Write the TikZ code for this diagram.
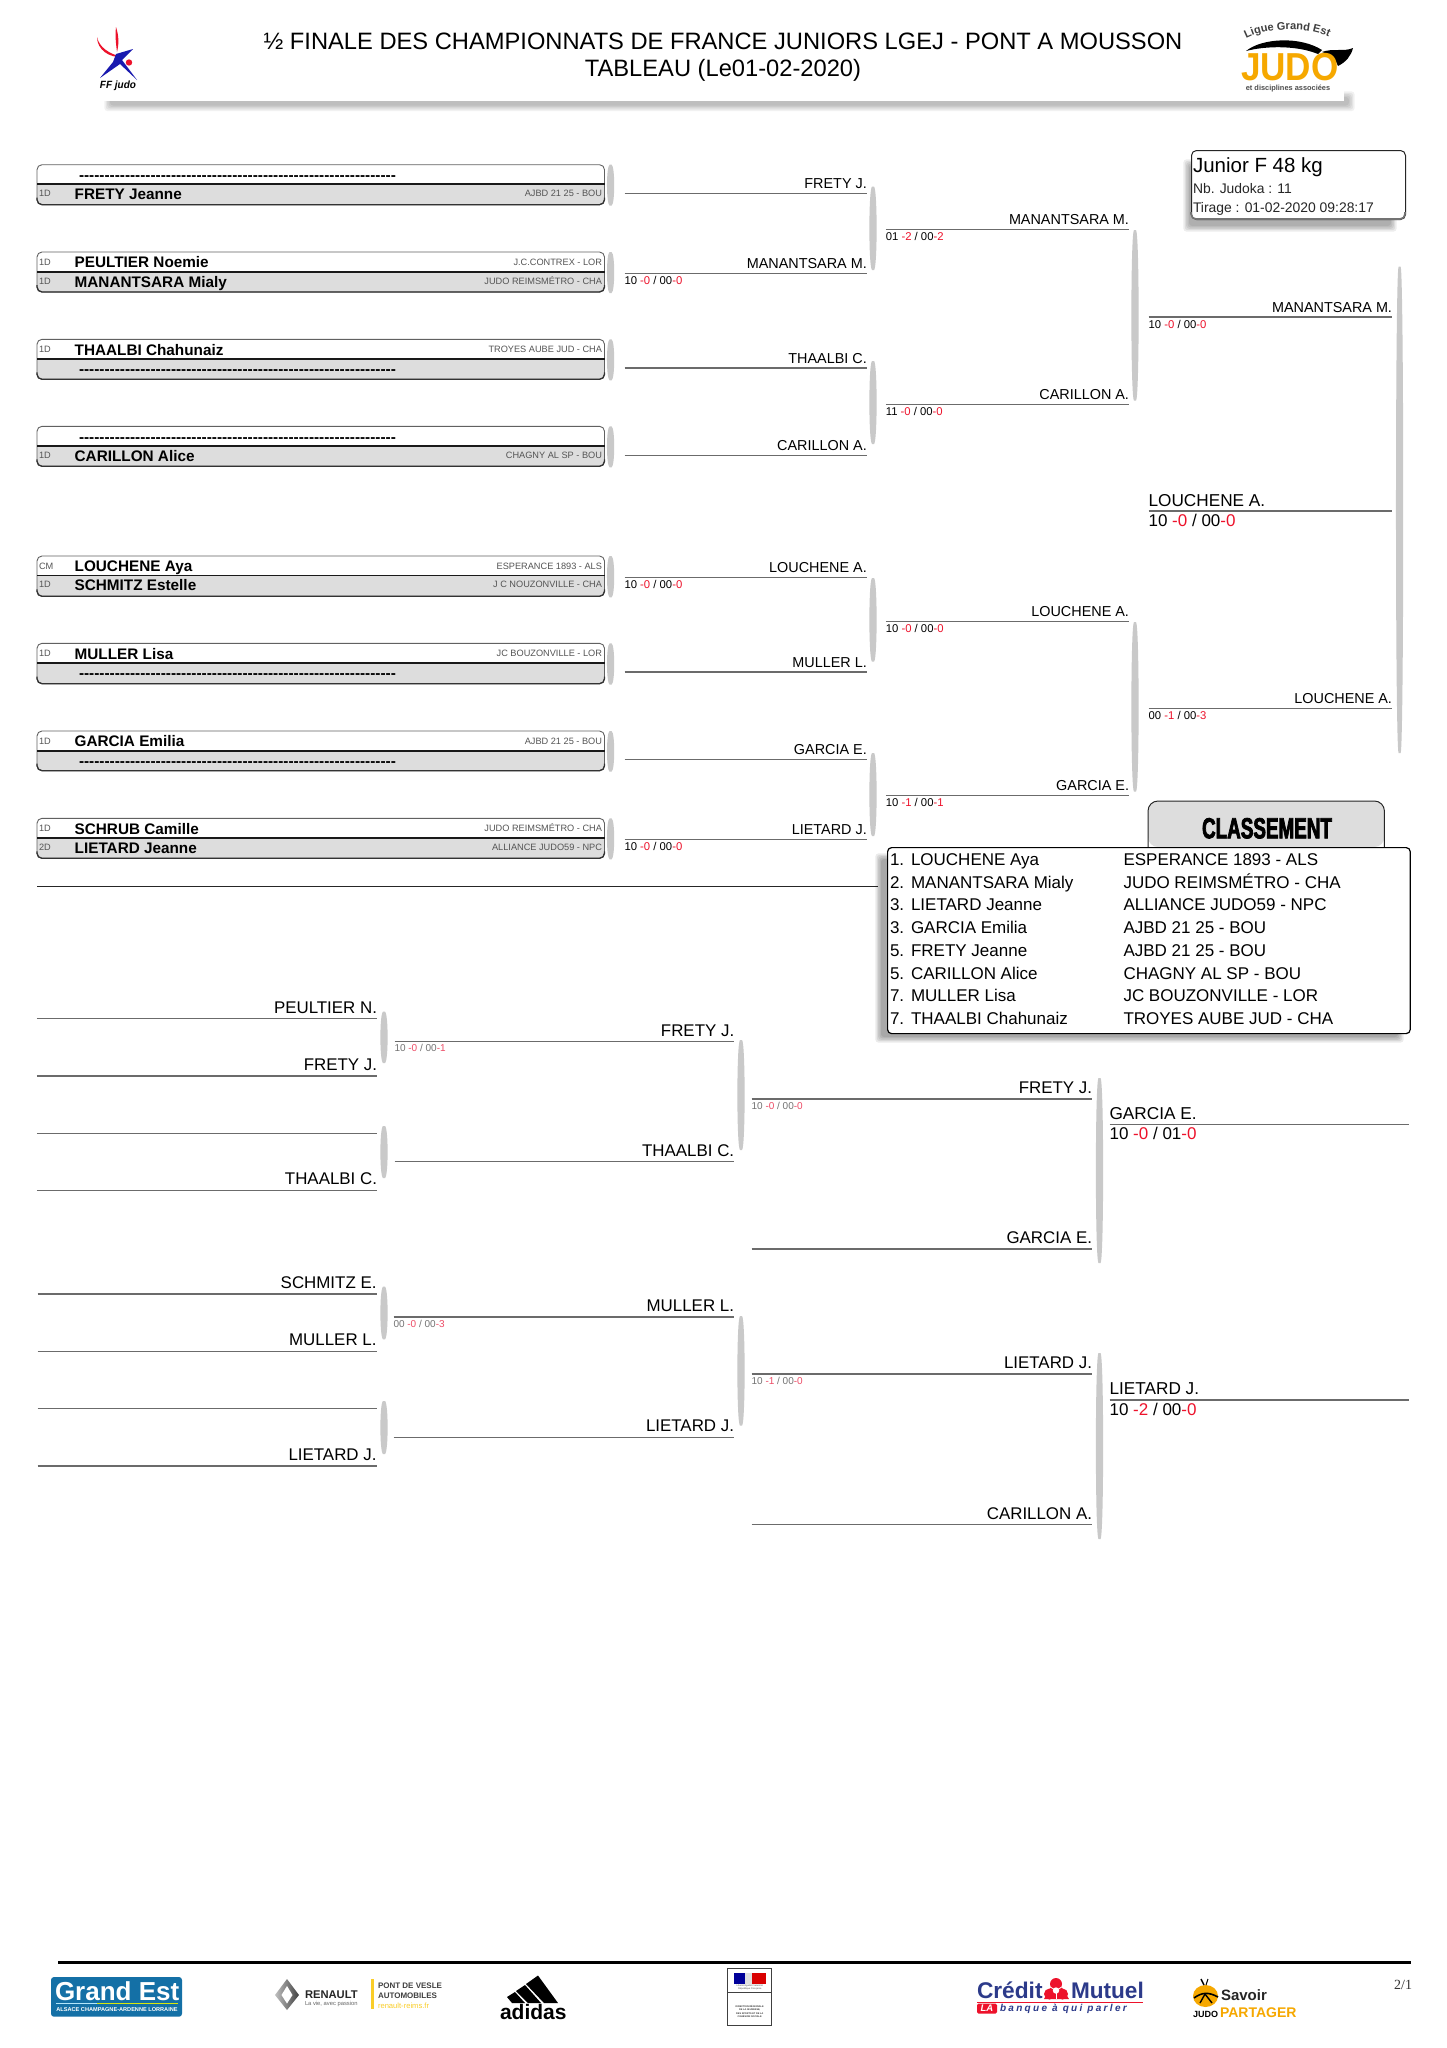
\documentclass[tikz,border=0pt]{standalone}
\usepackage{fontspec}
\usepackage{graphicx}
\setmainfont{Liberation Sans}[Ligatures=NoCommon]
\newfontfamily\plainf{Liberation Sans}
\newfontfamily\serf{Liberation Serif}
\newfontfamily\impactf[BoldFeatures={FakeStretch=0.65,FakeBold=2.5}]{Liberation Sans}
\usetikzlibrary{calc,decorations.text}
\definecolor{jred}{rgb}{.93,.07,.17}
\definecolor{jredl}{rgb}{.93,.30,.40}
\definecolor{rowgray}{gray}{.865}
\definecolor{brk}{gray}{.79}
\definecolor{wirec}{gray}{.42}
\definecolor{clubc}{gray}{.33}
\definecolor{gestblue}{RGB}{20,112,166}
\definecolor{cmblue}{RGB}{44,58,138}
\definecolor{jorange}{RGB}{246,168,0}
\definecolor{ryellow}{RGB}{250,205,40}
\newcommand{\fs}[1]{\fontsize{#1}{#1}\selectfont}
\tikzset{
  x=1pt,y=-1pt,
  txt/.style={inner sep=0pt,outer sep=0pt},
  wire/.style={draw=wirec,line width=1.3pt},
  nameA/.style={txt,anchor=base east,font=\fs{14.4}},
  nameB/.style={txt,anchor=base east,font=\fs{16.9}},
  nameC/.style={txt,anchor=base west,font=\fs{17.2}},
  scoreA/.style={txt,anchor=base west,font=\fs{11.3}},
  scoreB/.style={txt,anchor=base west,font=\fs{10},text=black!55},
  scoreC/.style={txt,anchor=base west,font=\fs{17}},
  boxname/.style={txt,anchor=base west,font=\bfseries\fs{15.3}},
  boxclub/.style={txt,anchor=base east,font=\fs{9.2},text=clubc},
  boxrank/.style={txt,anchor=base west,font=\fs{9.2},text=clubc},
  boxdash/.style={txt,anchor=base west,font=\plainf\bfseries\fs{15.35}},
}
\newcommand{\wline}[7]{% id x1 x2 y style dy text
  \coordinate (#1-l) at (#2,#4);
  \coordinate (#1-r) at (#3,#4);
  \draw[wire] (#1-l) -- (#1-r);
  \node[#5] (#1-n) at (#3,#4-#6) {#7};}
\newcommand{\wlineW}[7]{% left aligned name
  \coordinate (#1-l) at (#2,#4);
  \coordinate (#1-r) at (#3,#4);
  \draw[wire] (#1-l) -- (#1-r);
  \node[#5] (#1-n) at (#2,#4-#6) {#7};}
\newcommand{\wblank}[4]{%
  \coordinate (#1-l) at (#2,#4);
  \coordinate (#1-r) at (#3,#4);
  \draw[wire] (#1-l) -- (#1-r);}
\newcommand{\jscore}[4]{#1 {\color{jred}-#2} / #3{\color{jred}-#4}}
\newcommand{\jscorel}[4]{#1 {\color{jredl}-#2} / #3{\color{jredl}-#4}}
\newcommand{\lens}[4]{% id x y1 y2
  \coordinate (#1-a) at (#2,#3);
  \coordinate (#1-b) at (#2,#4);
  \fill[brk] ($(#1-a)+(-1,0)$) .. controls ($(#1-a)+(-4.5,2)$) and ($(#1-b)+(-4.5,-2)$) .. ($(#1-b)+(-1,0)$)
     -- ($(#1-b)+(1,0)$) .. controls ($(#1-b)+(4.5,-2)$) and ($(#1-a)+(4.5,2)$) .. ($(#1-a)+(1,0)$) -- cycle;}
\newcommand{\frameb}[4]{% id top div bot
  \coordinate (#1-tl) at (37,#2);
  \coordinate (#1-br) at (604.5,#4);
  \coordinate (#1-dl) at (37,#3);
  \coordinate (#1-dr) at (604.5,#3);
  \coordinate (#1-aname) at (74.7,#2+15.7);
  \coordinate (#1-adash) at (79,#2+15.7);
  \coordinate (#1-aclub) at (602,#2+13);
  \coordinate (#1-arank) at (39,#2+13);
  \coordinate (#1-bname) at (74.7,#3+15.3);
  \coordinate (#1-bdash) at (79,#3+15.3);
  \coordinate (#1-bclub) at (602,#3+12.4);
  \coordinate (#1-brank) at (39,#3+12.4);
  \fill[white,rounded corners=5pt] (#1-tl) rectangle (#1-br);
  \fill[rowgray] (#1-dl) [rounded corners=5pt] -- (37,#4) -- (604.5,#4) [sharp corners] -- (#1-dr) -- cycle;
  \draw[black!62,line width=.9pt,rounded corners=5pt] (#1-tl) rectangle (#1-br);
  \draw[black!80,line width=1.3pt,rounded corners=5pt] (37,#4-7) -- (37,#4) -- (604.5,#4) -- (604.5,#4-7);
  \draw[black!90,line width=1.6pt] (#1-dl) -- (#1-dr);
  \lens{#1-brk}{610.6}{#2}{#4+1}}
\newcommand{\rowA}[4]{\node[boxrank] (#1-arankt) at (#1-arank) {#2};
  \node[boxname] (#1-anamet) at (#1-aname) {#3};
  \node[boxclub] (#1-aclubt) at (#1-aclub) {#4};}
\newcommand{\rowB}[4]{\node[boxrank] (#1-brankt) at (#1-brank) {#2};
  \node[boxname] (#1-bnamet) at (#1-bname) {#3};
  \node[boxclub] (#1-bclubt) at (#1-bclub) {#4};}
\newcommand{\dashes}{--------------------------------------------------------------}
\newcommand{\softshadow}[5]{% x1 y1 x2 y2 strength
  \foreach \jj in {0,1,...,4}{
    \fill[black,opacity=#5,rounded corners=3pt] (#1-\jj*1.4,#2-\jj*1.4) rectangle (#3+\jj*1.4,#4+\jj*1.4);}}
\begin{document}
\begin{tikzpicture}
\useasboundingbox (0,0) rectangle (1447,2048);
\fill[white] (0,0) rectangle (1447,2048);

% ---------- header
\softshadow{110}{97}{1349}{105.5}{.055}
\fill[white] (92,0) rectangle (1344,101);
\node[txt,font=\fs{23.7}] (title1) at (723,41.5) {½ FINALE DES CHAMPIONNATS DE FRANCE JUNIORS LGEJ - PONT A MOUSSON};
\node[txt,font=\fs{23.7}] (title2) at (723,70) {TABLEAU (Le01-02-2020)};

% FF judo logo
\fill[jred] (116,27) .. controls (119,36) and (119,44) .. (117,52) .. controls (116,44) and (115,36) .. (116,27) -- cycle;
\fill[jred] (97,37) .. controls (99,47) and (109,54) .. (122,57) .. controls (110,58) and (97,50) .. (97,37) -- cycle;
\fill[blue!65!black!90] (116,54) -- (133,49) -- (122,60) -- (137,80) -- (120,64) -- (100,78) -- (113,62) -- cycle;
\fill[jred] (129,62.5) circle (3.2);
\node[txt,font=\bfseries\itshape\fs{10.5}] (ffjudo) at (118,86) {\scalebox{.95}[1]{FF judo}};

% Ligue Grand Est logo
\coordinate (lg-a) at (1242,41);
\coordinate (lg-b) at (1333,39);
\path[decorate,decoration={text along path,text align=center,
  text={|\bfseries\fs{11}\color{black!75}|Ligue Grand Est}}] (lg-a) .. controls (1265,26) and (1311,26) .. (lg-b);
\fill[black] (1246,51) .. controls (1262,38) and (1300,36) .. (1322,50) -- (1318,54) .. controls (1296,45) and (1265,46) .. (1246,51) -- cycle;
\fill[black] (1322,52) .. controls (1332,48) and (1345,52) .. (1353,48) .. controls (1351,56) and (1346,62) .. (1338,66) .. controls (1335,58) and (1330,55) .. (1322,52) -- cycle;
\node[txt,anchor=base west,font=\bfseries\fs{39},text=jorange] (lgjudo) at (1241,80) {\scalebox{.9}[1]{JUDO}};
\node[txt,font=\bfseries\fs{7.4},text=black!70] (lgdisc) at (1288,89) {et disciplines associées};

% ---------- junior box
\softshadow{1189}{165}{1391}{226}{.07}
\node[draw=black!85,line width=1pt,fill=white,rounded corners=5pt,minimum width=214pt,minimum height=69pt,inner sep=0pt,anchor=north west] (jbox) at (1191,150) {};
\draw[black!55,line width=1.6pt,rounded corners=5pt] (1191,212) -- (1191,219) -- (1405,219) -- (1405,212);
\node[txt,anchor=base west,font=\fs{20.5}] (jcat) at (1193,172) {Junior F 48 kg};
\node[txt,anchor=base west,font=\fs{13.9},text=black!85] (jnb) at (1193,193) {Nb. Judoka : 11};
\node[txt,anchor=base west,font=\fs{13.9},text=black!85] (jtir) at (1193,212) {Tirage : 01-02-2020 09:28:17};

% ---------- entries
\frameb{e1}{164.7}{184}{204.7}
\node[boxdash] (e1-d) at (e1-adash) {\dashes};
\rowB{e1}{1D}{FRETY Jeanne}{AJBD 21 25 - BOU}
\frameb{e2}{252}{271.7}{292}
\rowA{e2}{1D}{PEULTIER Noemie}{J.C.CONTREX - LOR}
\rowB{e2}{1D}{MANANTSARA Mialy}{JUDO REIMSMÉTRO - CHA}
\frameb{e3}{339.3}{359}{379.3}
\rowA{e3}{1D}{THAALBI Chahunaiz}{TROYES AUBE JUD - CHA}
\node[boxdash] (e3-d) at (e3-bdash) {\dashes};
\frameb{e4}{426.3}{446}{466.3}
\node[boxdash] (e4-d) at (e4-adash) {\dashes};
\rowB{e4}{1D}{CARILLON Alice}{CHAGNY AL SP - BOU}
\frameb{e5}{556}{575.3}{596.3}
\rowA{e5}{CM}{LOUCHENE Aya}{ESPERANCE 1893 - ALS}
\rowB{e5}{1D}{SCHMITZ Estelle}{J C NOUZONVILLE - CHA}
\frameb{e6}{643.3}{663}{683.7}
\rowA{e6}{1D}{MULLER Lisa}{JC BOUZONVILLE - LOR}
\node[boxdash] (e6-d) at (e6-bdash) {\dashes};
\frameb{e7}{731}{750.7}{770.7}
\rowA{e7}{1D}{GARCIA Emilia}{AJBD 21 25 - BOU}
\node[boxdash] (e7-d) at (e7-bdash) {\dashes};
\frameb{e8}{818.3}{837.7}{858.3}
\rowA{e8}{1D}{SCHRUB Camille}{JUDO REIMSMÉTRO - CHA}
\rowB{e8}{2D}{LIETARD Jeanne}{ALLIANCE JUDO59 - NPC}

% ---------- main draw, round 1
\wline{a1}{624.5}{866.8}{193.3}{nameA}{5}{FRETY J.}
\wline{a2}{624.5}{866.8}{273.7}{nameA}{5}{MANANTSARA M.}
\node[scoreA] (a2-s) at (624.5,284.7) {\jscore{10}{0}{00}{0}};
\wline{a3}{624.5}{866.8}{368}{nameA}{5}{THAALBI C.}
\wline{a4}{624.5}{866.8}{455.3}{nameA}{5}{CARILLON A.}
\wline{a5}{624.5}{866.8}{577.7}{nameA}{5}{LOUCHENE A.}
\node[scoreA] (a5-s) at (624.5,588.7) {\jscore{10}{0}{00}{0}};
\wline{a6}{624.5}{866.8}{672}{nameA}{5}{MULLER L.}
\wline{a7}{624.5}{866.8}{759.3}{nameA}{5}{GARCIA E.}
\wline{a8}{624.5}{866.8}{839.3}{nameA}{5}{LIETARD J.}
\node[scoreA] (a8-s) at (624.5,850.3) {\jscore{10}{0}{00}{0}};
\lens{ab1}{873}{186.7}{270}
\lens{ab2}{873}{361}{444}
\lens{ab3}{873}{578}{661.7}
\lens{ab4}{873}{753}{836}

% round 2
\wline{b1}{885.8}{1129}{229.7}{nameA}{5}{MANANTSARA M.}
\node[scoreA] (b1-s) at (885.8,240.7) {\jscore{01}{2}{00}{2}};
\wline{b2}{885.8}{1129}{404.3}{nameA}{5}{CARILLON A.}
\node[scoreA] (b2-s) at (885.8,415.3) {\jscore{11}{0}{00}{0}};
\wline{b3}{885.8}{1129}{621.3}{nameA}{5}{LOUCHENE A.}
\node[scoreA] (b3-s) at (885.8,632.3) {\jscore{10}{0}{00}{0}};
\wline{b4}{885.8}{1129}{795.7}{nameA}{5}{GARCIA E.}
\node[scoreA] (b4-s) at (885.8,806.7) {\jscore{10}{1}{00}{1}};
\lens{bb1}{1135}{230}{400.7}
\lens{bb2}{1135}{622}{791.7}

% round 3
\wline{c1}{1148.6}{1392}{317}{nameA}{5}{MANANTSARA M.}
\node[scoreA] (c1-s) at (1148.6,328) {\jscore{10}{0}{00}{0}};
\wline{c2}{1148.6}{1392}{708.7}{nameA}{5}{LOUCHENE A.}
\node[scoreA] (c2-s) at (1148.6,719.7) {\jscore{00}{1}{00}{3}};
\lens{cb}{1399.6}{266.7}{753}

% final
\wlineW{f}{1148.6}{1392}{511}{nameC}{5}{LOUCHENE A.}
\node[scoreC] (f-s) at (1148.6,526.5) {\jscore{10}{0}{00}{0}};

% separator
\coordinate (sep-l) at (37,886.7);
\coordinate (sep-r) at (878,886.7);
\draw[black!85,line width=1.3pt] (sep-l) -- (sep-r);

% ---------- classement
\softshadow{881}{859}{1398}{1037}{.08}
\fill[rowgray,rounded corners=10pt] (1148,847) -- (1148,801) -- (1384.4,801) -- (1384.4,847) -- cycle;
\draw[black!85,line width=1pt,rounded corners=10pt] (1148,847) -- (1148,801) -- (1384.4,801) -- (1384.4,847);
\node[txt,font=\impactf\bfseries\fs{29},text=black] (classhead) at (1267,828.3) {CLASSEMENT};
\node[draw=black,line width=1.2pt,fill=white,rounded corners=4pt,inner sep=0pt,minimum width=522.6pt,minimum height=186pt,anchor=north west] (ctable) at (887,847) {};
\foreach \i/\r/\nm/\cl in {
  0/1./LOUCHENE Aya/ESPERANCE 1893 - ALS,
  1/2./MANANTSARA Mialy/JUDO REIMSMÉTRO - CHA,
  2/3./LIETARD Jeanne/ALLIANCE JUDO59 - NPC,
  3/3./GARCIA Emilia/AJBD 21 25 - BOU,
  4/5./FRETY Jeanne/AJBD 21 25 - BOU,
  5/5./CARILLON Alice/CHAGNY AL SP - BOU,
  6/7./MULLER Lisa/JC BOUZONVILLE - LOR,
  7/7./THAALBI Chahunaiz/TROYES AUBE JUD - CHA}{
  \node[txt,anchor=base west,font=\fs{17}] (cr\i) at (890,865.4+\i*22.76) {\r};
  \node[txt,anchor=base west,font=\fs{17}] (cn\i) at (911,865.4+\i*22.76) {\nm};
  \node[txt,anchor=base west,font=\fs{17}] (cc\i) at (1123.5,865.4+\i*22.76) {\cl};
}

% ---------- repechage
\wline{r1}{36.8}{377}{1018.7}{nameB}{5.4}{PEULTIER N.}
\wline{r2}{36.8}{377}{1076}{nameB}{5.4}{FRETY J.}
\wblank{r3}{36.8}{377}{1133.3}
\wline{r4}{36.8}{377}{1190.3}{nameB}{5.4}{THAALBI C.}
\lens{rb1}{384}{1011.7}{1063}
\lens{rb2}{384}{1126}{1178}
\wline{s1}{394.5}{734.2}{1041.7}{nameB}{5.4}{FRETY J.}
\node[scoreB] (s1-s) at (394.5,1051.5) {\jscorel{10}{0}{00}{1}};
\wline{s2}{394.5}{734.2}{1161.7}{nameB}{5.4}{THAALBI C.}
\lens{sb1}{741}{1040}{1150}
\wline{r5}{37.5}{376.5}{1294}{nameB}{5.4}{SCHMITZ E.}
\wline{r6}{37.5}{376.5}{1351.3}{nameB}{5.4}{MULLER L.}
\wblank{r7}{37.5}{376.5}{1408.7}
\wline{r8}{37.5}{376.5}{1466}{nameB}{5.4}{LIETARD J.}
\lens{rb3}{384}{1286.7}{1339.3}
\lens{rb4}{384}{1401}{1454}
\wline{s3}{393.5}{734}{1317}{nameB}{5.4}{MULLER L.}
\node[scoreB] (s3-s) at (393.5,1327) {\jscorel{00}{0}{00}{3}};
\wline{s4}{393.5}{734}{1437.3}{nameB}{5.4}{LIETARD J.}
\lens{sb2}{741}{1316}{1425.7}
\wline{t1}{751.6}{1092}{1099}{nameB}{5.4}{FRETY J.}
\node[scoreB] (t1-s) at (751.6,1109) {\jscorel{10}{0}{00}{0}};
\wline{t2}{751.6}{1092}{1249}{nameB}{5.4}{GARCIA E.}
\wline{t3}{751.6}{1092}{1374}{nameB}{5.4}{LIETARD J.}
\node[scoreB] (t3-s) at (751.6,1384) {\jscorel{10}{1}{00}{0}};
\wline{t4}{751.6}{1092}{1524.7}{nameB}{5.4}{CARILLON A.}
\lens{tb1}{1099.5}{1078}{1263}
\lens{tb2}{1099.5}{1353}{1539}
\wlineW{g1}{1109.6}{1408.6}{1124.7}{nameC}{5.4}{GARCIA E.}
\node[scoreC] (g1-s) at (1109.6,1139.5) {\jscore{10}{0}{01}{0}};
\wlineW{g2}{1109.6}{1408.6}{1400}{nameC}{5.4}{LIETARD J.}
\node[scoreC] (g2-s) at (1109.6,1415) {\jscore{10}{2}{00}{0}};

% ---------- footer
\coordinate (ft-l) at (58,1962.3);
\coordinate (ft-r) at (1411,1962.3);
\draw[black,line width=3.6pt] (ft-l) -- (ft-r);

% Grand Est
\fill[gestblue,rounded corners=3pt] (51,1977) rectangle (182,2016.7);
\node[txt,anchor=base west,font=\bfseries\fs{26},text=white] (ge1) at (55,2000.5) {Grand Est};
\draw[white!70!cyan,line width=1pt] (56,2003.5) -- (97,2003.5);
\draw[yellow!85!green,line width=1pt] (97,2003.5) -- (178,2003.5);
\node[txt,font=\bfseries\fs{5.6},text=white] (ge2) at (117,2010) {ALSACE CHAMPAGNE-ARDENNE LORRAINE};

% Renault
\shade[left color=black!25,right color=black!75] (287,1979) -- (299,1995) -- (287,2010) -- (275,1995) -- cycle;
\fill[white] (287,1986) -- (292.5,1995) -- (287,2003.5) -- (281.5,1995) -- cycle;
\node[txt,anchor=base west,font=\bfseries\fs{11.2},text=black!85] (re1) at (305,1998) {RENAULT};
\node[txt,anchor=base west,font=\fs{5.8},text=black!60] (re2) at (305,2005) {La vie, avec passion};
\fill[ryellow] (371,1979) rectangle (374,2009);
\node[txt,anchor=base west,font=\bfseries\fs{8},text=black!75] (re3) at (378,1988) {PONT DE VESLE};
\node[txt,anchor=base west,font=\bfseries\fs{8},text=black!75] (re4) at (378,1998) {AUTOMOBILES};
\node[txt,anchor=base west,font=\fs{7.6},text=ryellow] (re5) at (378,2008) {renault-reims.fr};

% adidas
\fill[black] (507,1997) -- (515,1992) -- (525,2003) -- (512,2003) -- cycle;
\fill[black] (516,1991) -- (525,1985) -- (541,2003) -- (528,2003) -- cycle;
\fill[black] (526,1984) -- (538,1975.5) -- (558,2003) -- (544,2003) -- cycle;
\node[txt,anchor=base west,font=\bfseries\fs{21},text=black] (adi) at (500,2019) {adidas};

% Prefecture box
\draw[black!75,line width=1pt] (727.7,1968) rectangle (771.7,2025);
\draw[black!75,line width=.8pt] (727.7,1992.7) -- (771.7,1992.7);
\fill[blue!60!black] (733.5,1973) rectangle (745,1984);
\fill[red!85!black] (752,1973) rectangle (765.5,1984);
\fill[black!12] (745,1973) rectangle (752,1984);
\node[txt,font=\fs{2.4},text=black!70] (pr1) at (749.7,1986) {Liberté Égalité Fraternité};
\node[txt,font=\fs{2.4},text=black!70] (pr2) at (749.7,1989) {République Française};
\node[txt,font=\bfseries\fs{2.4},text=black!80] (pr3) at (749.7,2006) {DIRECTION RÉGIONALE};
\node[txt,font=\bfseries\fs{2.4},text=black!80] (pr4) at (749.7,2009.6) {DE LA JEUNESSE,};
\node[txt,font=\bfseries\fs{2.4},text=black!80] (pr5) at (749.7,2013.2) {DES SPORTS ET DE LA};
\node[txt,font=\bfseries\fs{2.4},text=black!80] (pr6) at (749.7,2016.8) {COHÉSION SOCIALE};

% Credit Mutuel
\node[txt,anchor=base west,font=\bfseries\fs{22.7},text=cmblue] (cm1) at (977,1998) {Crédit};
\node[txt,anchor=base west,font=\bfseries\fs{22.6},text=cmblue] (cm2) at (1071,1998) {Mutuel};
\fill[jred] (1056,1978) -- (1069,1999) -- (1044,1999) -- cycle;
\fill[jred] (1056,1984) circle (6);
\fill[jred] (1049.5,1994) circle (5.5);
\fill[jred] (1062.5,1994) circle (5.5);
\fill[white] (1056,1990.5) circle (3.2);
\draw[white,line width=.8pt] (1056,1990.5) -- (1056,1999);
\draw[white,line width=.8pt] (1056,1990.5) -- (1047,1985);
\draw[white,line width=.8pt] (1056,1990.5) -- (1065,1985);
\draw[jred,line width=1pt] (977,2002) -- (1143,2002);
\fill[jred,rounded corners=1.5pt] (977,2003.5) rectangle (997,2013.5);
\node[txt,font=\bfseries\itshape\fs{9.5},text=white] (cm3) at (987,2008.5) {LA};
\node[txt,anchor=base west,font=\bfseries\itshape\fs{10},text=cmblue] (cm4) at (1000,2011.8) {\addfontfeatures{LetterSpace=23}banque à qui parler};

% Savoir partager
\fill[jorange] (1205.5,1996) ellipse (12.5 and 11);
\draw[black,line width=1.6pt] (1194,1998) .. controls (1202,1992) and (1209,1992) .. (1218,1997);
\draw[black,line width=1.4pt] (1205,1994) -- (1200,2003);
\draw[black,line width=1.4pt] (1205,1994) -- (1212,2003);
\draw[black,line width=1.4pt] (1204,1985) -- (1201,1979);
\draw[black,line width=1pt] (1206,1985) -- (1208,1979);
\node[txt,anchor=base west,font=\bfseries\fs{9},text=black] (sv1) at (1193,2017) {JUDO};
\node[txt,anchor=base west,font=\bfseries\fs{15},text=black!85] (sv2) at (1221,2000) {Savoir};
\node[txt,anchor=base west,font=\bfseries\fs{14},text=jorange] (sv3) at (1220,2017.2) {PARTAGER};

% page number
\node[txt,anchor=base east,font=\serf\fs{14},text=black!80] (pg) at (1412,1989) {2/1};
\end{tikzpicture}
\end{document}
